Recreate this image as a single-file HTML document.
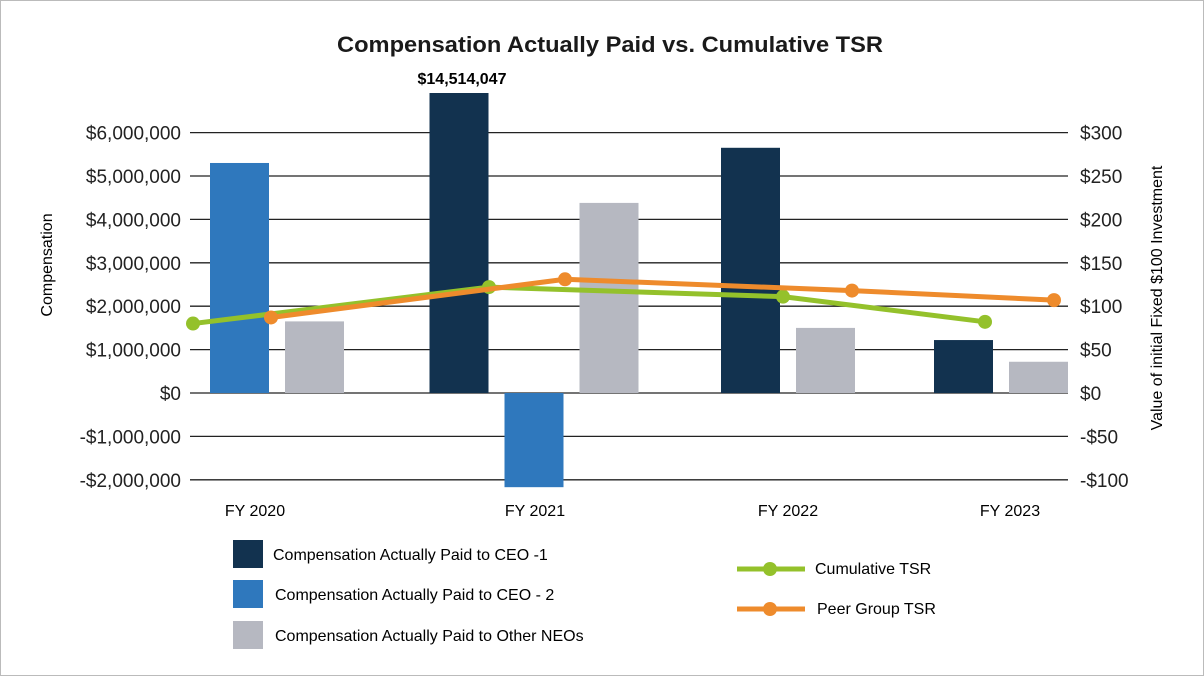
<!DOCTYPE html>
<html><head><meta charset="utf-8"><style>
body{margin:0;background:#fff;font-family:"Liberation Sans",sans-serif;}
svg{display:block}
</style></head><body>
<svg width="1204" height="676" id="c">
<rect x="0.5" y="0.5" width="1203" height="675" fill="#fff" stroke="#bbb"/>
<text x="610" y="52" text-anchor="middle" font-size="22" font-weight="bold" fill="#1a1a1a" textLength="546" lengthAdjust="spacingAndGlyphs">Compensation Actually Paid vs. Cumulative TSR</text>
<text transform="translate(52,265) rotate(-90)" text-anchor="middle" font-size="16">Compensation</text>
<text transform="translate(1162,298) rotate(-90)" text-anchor="middle" font-size="16">Value of initial Fixed $100 Investment</text>
<g id="grid"></g><g id="bars"></g><g id="lines"></g><g id="labels"></g>
<g font-size="16">
<rect x="233" y="540" width="30" height="28" fill="#12324f"/>
<text x="273" y="560">Compensation Actually Paid to CEO -1</text>
<rect x="233" y="580" width="30" height="28" fill="#2f78bd"/>
<text x="275" y="600">Compensation Actually Paid to CEO - 2</text>
<rect x="233" y="621" width="30" height="28" fill="#b6b8c1"/>
<text x="275" y="641">Compensation Actually Paid to Other NEOs</text>
<line x1="737" y1="569" x2="805" y2="569" stroke="#94c12b" stroke-width="5"/>
<circle cx="770" cy="569" r="7" fill="#94c12b"/>
<text x="815" y="574">Cumulative TSR</text>
<line x1="737" y1="609" x2="805" y2="609" stroke="#ee8b2c" stroke-width="5"/>
<circle cx="770" cy="609" r="7" fill="#ee8b2c"/>
<text x="817" y="614">Peer Group TSR</text>
</g>
</svg>
<script>
const categories=["FY 2020","FY 2021","FY 2022","FY 2023"];
const ceo1=[null,14514047,5650000,1220000];
const ceo2=[5300000,-2170000,null,null];
const neos=[1650000,4380000,1500000,720000];
const tsr=[80,122,111,82];
const peer=[87,131,118,107];
const leftTicks=[-2000000,-1000000,0,1000000,2000000,3000000,4000000,5000000,6000000];
const rightTicks=[-100,-50,0,50,100,150,200,250,300];
// layout
const catCenter=[277,534,788,1001];
const tsrX=[193,489,783,985], peerX=[271,565,852,1054];
const labelX=[255,535,788,1010];
const y0=393, pxM=43.4/1e6, pxT=43.4/50;
const yL=v=>y0-v*pxM, yR=v=>y0-v*pxT;
const NS="http://www.w3.org/2000/svg";
function mk(tag,attrs,parent,txt){const e=document.createElementNS(NS,tag);for(const k in attrs)e.setAttribute(k,attrs[k]);if(txt!=null)e.textContent=txt;document.getElementById(parent).appendChild(e);return e;}
const fmt=v=>(v<0?"-":"")+"$"+Math.abs(v).toLocaleString("en-US");
leftTicks.forEach((t,i)=>{
 let l=mk("line",{x1:190,x2:1068,y1:yL(t),y2:yL(t),stroke:"#222","stroke-width":1.3},"grid");
 
 
 let tx=mk("text",{x:181,y:yL(t)+7,"text-anchor":"end","font-size":19,fill:"#222"},"labels",fmt(t));
 
 
});
rightTicks.forEach(t=>{
 let tx=mk("text",{x:1080,y:yR(t)+7,"font-size":19,fill:"#222"},"labels",fmt(t));
 
 
});
categories.forEach((c,i)=>{
 let tx=mk("text",{x:labelX[i],y:516,"text-anchor":"middle","font-size":16},"labels",c);
 
 
 const series=[[ceo1,"#12324f","ceo1"],[ceo2,"#2f78bd","ceo2"],[neos,"#b6b8c1","neos"]].filter(s=>s[0][i]!=null);
 const n=series.length, w=59, step=75;
 series.forEach((s,j)=>{
  const v=s[0][i]; let top=Math.max(yL(v),93), bot=yL(0);
  if(v<0){top=y0;bot=yL(v);}
  const x=catCenter[i]-(n*step-16)/2+j*step;
  let r=mk("rect",{x:x,y:Math.min(top,bot),width:w,height:Math.abs(bot-top),fill:s[1]},"bars");
  
  
  if(v>14000000){let t=mk("text",{x:x+w/2+3,y:84,"text-anchor":"middle","font-size":16,"font-weight":"bold"},"labels",fmt(v));
   
   }
 });
});
[[tsr,tsrX,"#94c12b","tsr"],[peer,peerX,"#ee8b2c","peer"]].forEach(s=>{
 const pts=s[0].map((v,i)=>s[1][i]+","+yR(v)).join(" ");
 let p=mk("polyline",{points:pts,fill:"none",stroke:s[2],"stroke-width":5},"lines");
 
 
 s[0].forEach((v,i)=>{let c=mk("circle",{cx:s[1][i],cy:yR(v),r:7,fill:s[2]},"lines");
  
  });
});
</script>
</body></html>
